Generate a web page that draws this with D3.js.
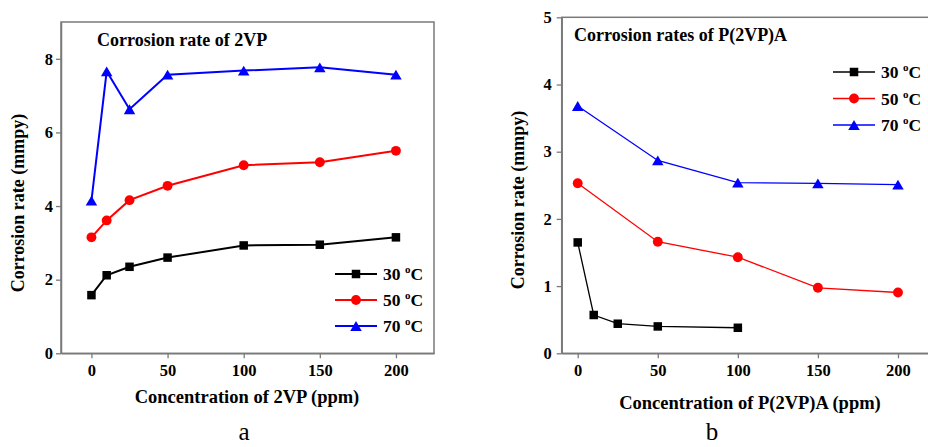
<!DOCTYPE html>
<html><head><meta charset="utf-8">
<script src="https://cdn.jsdelivr.net/npm/d3@7"></script>
<style>body{margin:0;background:#fff}svg{display:block}text{font-family:"Liberation Serif","Times New Roman",serif}</style>
</head><body>
<svg id="c" width="928" height="447"></svg>
<script>
// Chart a: 2VP
const concA = [0, 10, 25, 50, 100, 150, 200];
const a30 = [1.58, 2.12, 2.35, 2.60, 2.93, 2.95, 3.15];
const a50 = [3.15, 3.61, 4.16, 4.55, 5.11, 5.19, 5.50];
const a70 = [4.15, 7.66, 6.63, 7.57, 7.68, 7.77, 7.57];
const yTicksA = [0, 2, 4, 6, 8];
// Chart b: P(2VP)A
const concB30 = [0, 10, 25, 50, 100];
const b30 = [1.65, 0.57, 0.44, 0.40, 0.38];
const concB = [0, 50, 100, 150, 200];
const b50 = [2.53, 1.66, 1.43, 0.975, 0.905];
const b70 = [3.68, 2.87, 2.54, 2.53, 2.51];
const yTicksB = [0, 1, 2, 3, 4, 5];
const xTicks = [0, 50, 100, 150, 200];
const seriesNames = ["30 ", "50 ", "70 "];
const colors = ["#000000", "#ff0000", "#0000ff"];
const shapes = ["square", "circle", "triangle"];

const svg = d3.select("#c");
const frameColor = "#7a7a7a";

function marker(g, shape, x, y, color, s) {
  if (shape === "square") {
    g.append("rect").attr("x", x - s/2).attr("y", y - s/2).attr("width", s).attr("height", s).attr("fill", color);
  } else if (shape === "circle") {
    g.append("circle").attr("cx", x).attr("cy", y).attr("r", s*0.58).attr("fill", color);
  } else {
    const w = s*1.35, h = s*1.15;
    g.append("path").attr("d", `M${x},${y-h/2}L${x+w/2},${y+h/2}L${x-w/2},${y+h/2}Z`).attr("fill", color);
  }
}

function chart(cfg) {
  const g = svg.append("g");
  const x = d3.scaleLinear().domain(cfg.xdom).range([cfg.left, cfg.right]);
  const y = d3.scaleLinear().domain(cfg.ydom).range([cfg.bottom, cfg.top]);
  g.append("rect").attr("x", cfg.left).attr("y", cfg.top).attr("width", cfg.right - cfg.left)
    .attr("height", cfg.bottom - cfg.top).attr("fill", "none").attr("stroke", frameColor).attr("stroke-width", 1.5);
  const xa = g.append("g").attr("transform", `translate(0,${cfg.bottom})`)
    .call(d3.axisBottom(x).tickValues(xTicks).tickFormat(d3.format("d")).tickSize(5).tickSizeOuter(0).tickPadding(cfg.xpad));
  const ya = g.append("g").attr("transform", `translate(${cfg.left},0)`)
    .call(d3.axisLeft(y).tickValues(cfg.yticks).tickFormat(d3.format("d")).tickSize(5).tickSizeOuter(0).tickPadding(cfg.ypad));
  [xa, ya].forEach(a => {
    a.select(".domain").attr("stroke", frameColor).attr("stroke-width", 1.5);
    a.selectAll(".tick line").attr("stroke", frameColor).attr("stroke-width", 1.3);
    a.selectAll(".tick text").attr("fill", "#000").attr("font-size", 16.5).attr("font-weight", "bold")
      .attr("font-family", "Liberation Serif, serif");
  });
  cfg.series.forEach((s, i) => {
    const line = d3.line().x((d, j) => x(s.x[j])).y(d => y(d));
    g.append("path").datum(s.v).attr("d", line).attr("fill", "none").attr("stroke", colors[i]).attr("stroke-width", cfg.lw);
    s.v.forEach((v, j) => marker(g, shapes[i], x(s.x[j]), y(v), colors[i], cfg.ms));
  });
  cfg.series.forEach((s, i) => {
    const ly = cfg.legY + i * cfg.legDy;
    g.append("line").attr("x1", cfg.legX).attr("x2", cfg.legX + 42).attr("y1", ly).attr("y2", ly)
      .attr("stroke", colors[i]).attr("stroke-width", cfg.lw);
    marker(g, shapes[i], cfg.legX + 21, ly, colors[i], cfg.ms);
    const t = g.append("text").attr("x", cfg.legX + 48).attr("y", ly + 6).attr("font-size", 17.5)
      .attr("font-weight", "bold").text(seriesNames[i]);
    t.append("tspan").attr("font-size", 11).attr("dy", -7).text("o");
    t.append("tspan").attr("dy", 7).text("C");
  });
  g.append("text").attr("x", cfg.titleX).attr("y", cfg.titleY).attr("font-size", 18).attr("font-weight", "bold").text(cfg.title);
  g.append("text").attr("x", cfg.xtX).attr("y", cfg.xtY).attr("text-anchor", "middle").attr("font-size", 18.5)
    .attr("font-weight", "bold").text(cfg.xtitle);
  g.append("text").attr("transform", `translate(${cfg.ytX},${cfg.ytY}) rotate(-90)`).attr("text-anchor", "middle")
    .attr("font-size", 18).attr("font-weight", "bold").text("Corrosion rate (mmpy)");
  g.append("text").attr("x", cfg.lblX).attr("y", cfg.lblY).attr("text-anchor", "middle").attr("font-size", 25).text(cfg.lbl);
}

chart({
  xdom: [-20, 225], ydom: [0, 9], left: 61, right: 434, top: 22, bottom: 353.3,
  yticks: yTicksA, xpad: 6, ypad: 3, lw: 2, ms: 8.5,
  series: [{x: concA, v: a30}, {x: concA, v: a50}, {x: concA, v: a70}],
  legX: 335, legY: 274, legDy: 26,
  title: "Corrosion rate of 2VP", titleX: 97, titleY: 46,
  xtitle: "Concentration of 2VP (ppm)", xtX: 247, xtY: 403,
  ytX: 24, ytY: 203, lbl: "a", lblX: 244, lblY: 440
});
chart({
  xdom: [-10, 220], ydom: [0, 5], left: 561.7, right: 930, top: 17.3, bottom: 353.3,
  yticks: yTicksB, xpad: 6, ypad: 5, lw: 1.3, ms: 8.5,
  series: [{x: concB30, v: b30}, {x: concB, v: b50}, {x: concB, v: b70}],
  legX: 833, legY: 72, legDy: 26.5,
  title: "Corrosion rates of P(2VP)A", titleX: 574, titleY: 41,
  xtitle: "Concentration of P(2VP)A (ppm)", xtX: 750, xtY: 409,
  ytX: 524, ytY: 200, lbl: "b", lblX: 712, lblY: 440
});
</script>
</body></html>
